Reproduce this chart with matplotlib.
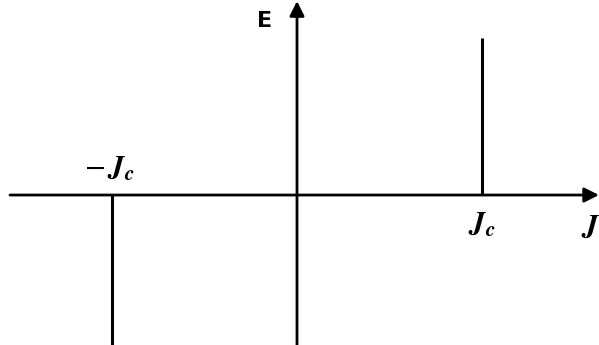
import matplotlib
matplotlib.use("Agg")
import matplotlib.pyplot as plt

plt.rcParams['mathtext.fontset'] = 'stix'

# Data (normalized: critical current Jc = 1, step height = 1)
jc_positions = [-1.0, 1.0]
e_tops = [-1.0, 1.0]
x_range = [-1.605, 1.632]
y_range = [-0.955, 1.242]
labels = {"neg": r"$-\,\mathbfit{J_c}$", "pos": r"$\mathbfit{J_c}$", "J": r"$\mathbfit{J}$", "E": "E"}

fig = plt.figure(figsize=(5.99, 3.45), dpi=100)
ax = fig.add_axes([0, 0, 1, 1])
ax.set_xlim(x_range[0], x_range[1])
ax.set_ylim(y_range[0], y_range[1])
ax.axis('off')

# axes with arrows
ax.annotate('', xy=(x_range[1], 0), xytext=(-1.551, 0),
            arrowprops=dict(arrowstyle='-|>', lw=2.0, color='black', mutation_scale=22,
                            shrinkA=0, shrinkB=0))
ax.annotate('', xy=(0, 1.235), xytext=(0, y_range[0] - 0.05),
            arrowprops=dict(arrowstyle='-|>', lw=2.0, color='black', mutation_scale=22,
                            shrinkA=0, shrinkB=0))

# vertical jumps at +/- Jc
for xj, et in zip(jc_positions, e_tops):
    ax.plot([xj, xj], [0, et], color='black', lw=2.2, solid_capstyle='butt')

ax.text(-1.016, 0.17, labels["neg"], fontsize=22, ha='center', va='center')
ax.text(1.0, -0.19, labels["pos"], fontsize=22, ha='center', va='center')
ax.text(1.585, -0.197, labels["J"], fontsize=22, ha='center', va='center')
ax.text(-0.173, 1.108, labels["E"], fontsize=16, fontweight='bold', ha='center', va='center')

fig.savefig("out.png", dpi=100)
